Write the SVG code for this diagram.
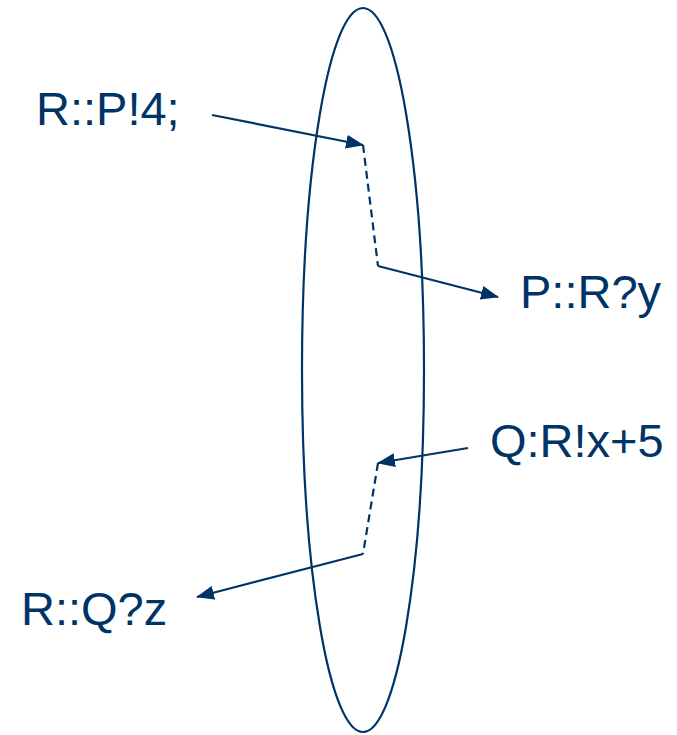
<svg xmlns="http://www.w3.org/2000/svg" width="677" height="735" viewBox="0 0 677 735">
<style>
.t{font-family:"Liberation Sans",Arial,sans-serif;font-size:47px;fill:#003366}
.l{fill:none;stroke:#003366;stroke-width:2.2}
.d{fill:none;stroke:#003366;stroke-width:2.2;stroke-dasharray:8,5}
</style>
<defs>
<marker id="b" markerWidth="18" markerHeight="14" refX="17" refY="7" orient="auto" markerUnits="userSpaceOnUse" viewBox="0 0 18 14">
<path d="M0,0 L18,7 L0,14 z" fill="#003366"/>
</marker>
</defs>
<g id="process">
<ellipse cx="363" cy="370" rx="61" ry="362" class="l"/>
</g>
<g id="n1"><text class="t" x="36" y="125">R::P!4;</text></g>
<g id="n2"><text class="t" x="520" y="308">P::R?y</text></g>
<g id="n3"><text class="t" x="490" y="457">Q:R!x+5</text></g>
<g id="n4"><text class="t" x="21" y="625">R::Q?z</text></g>
<g id="connectors">
<line class="l" x1="212" y1="115" x2="363" y2="145" marker-end="url(#b)"/>
<line class="d" x1="363" y1="145" x2="378" y2="266"/>
<line class="l" x1="378" y1="266" x2="498" y2="297" marker-end="url(#b)"/>
<line class="l" x1="468" y1="448" x2="378" y2="463" marker-end="url(#b)"/>
<line class="d" x1="378" y1="463" x2="363" y2="554"/>
<line class="l" x1="363" y1="554" x2="197" y2="597" marker-end="url(#b)"/>
</g>
</svg>
